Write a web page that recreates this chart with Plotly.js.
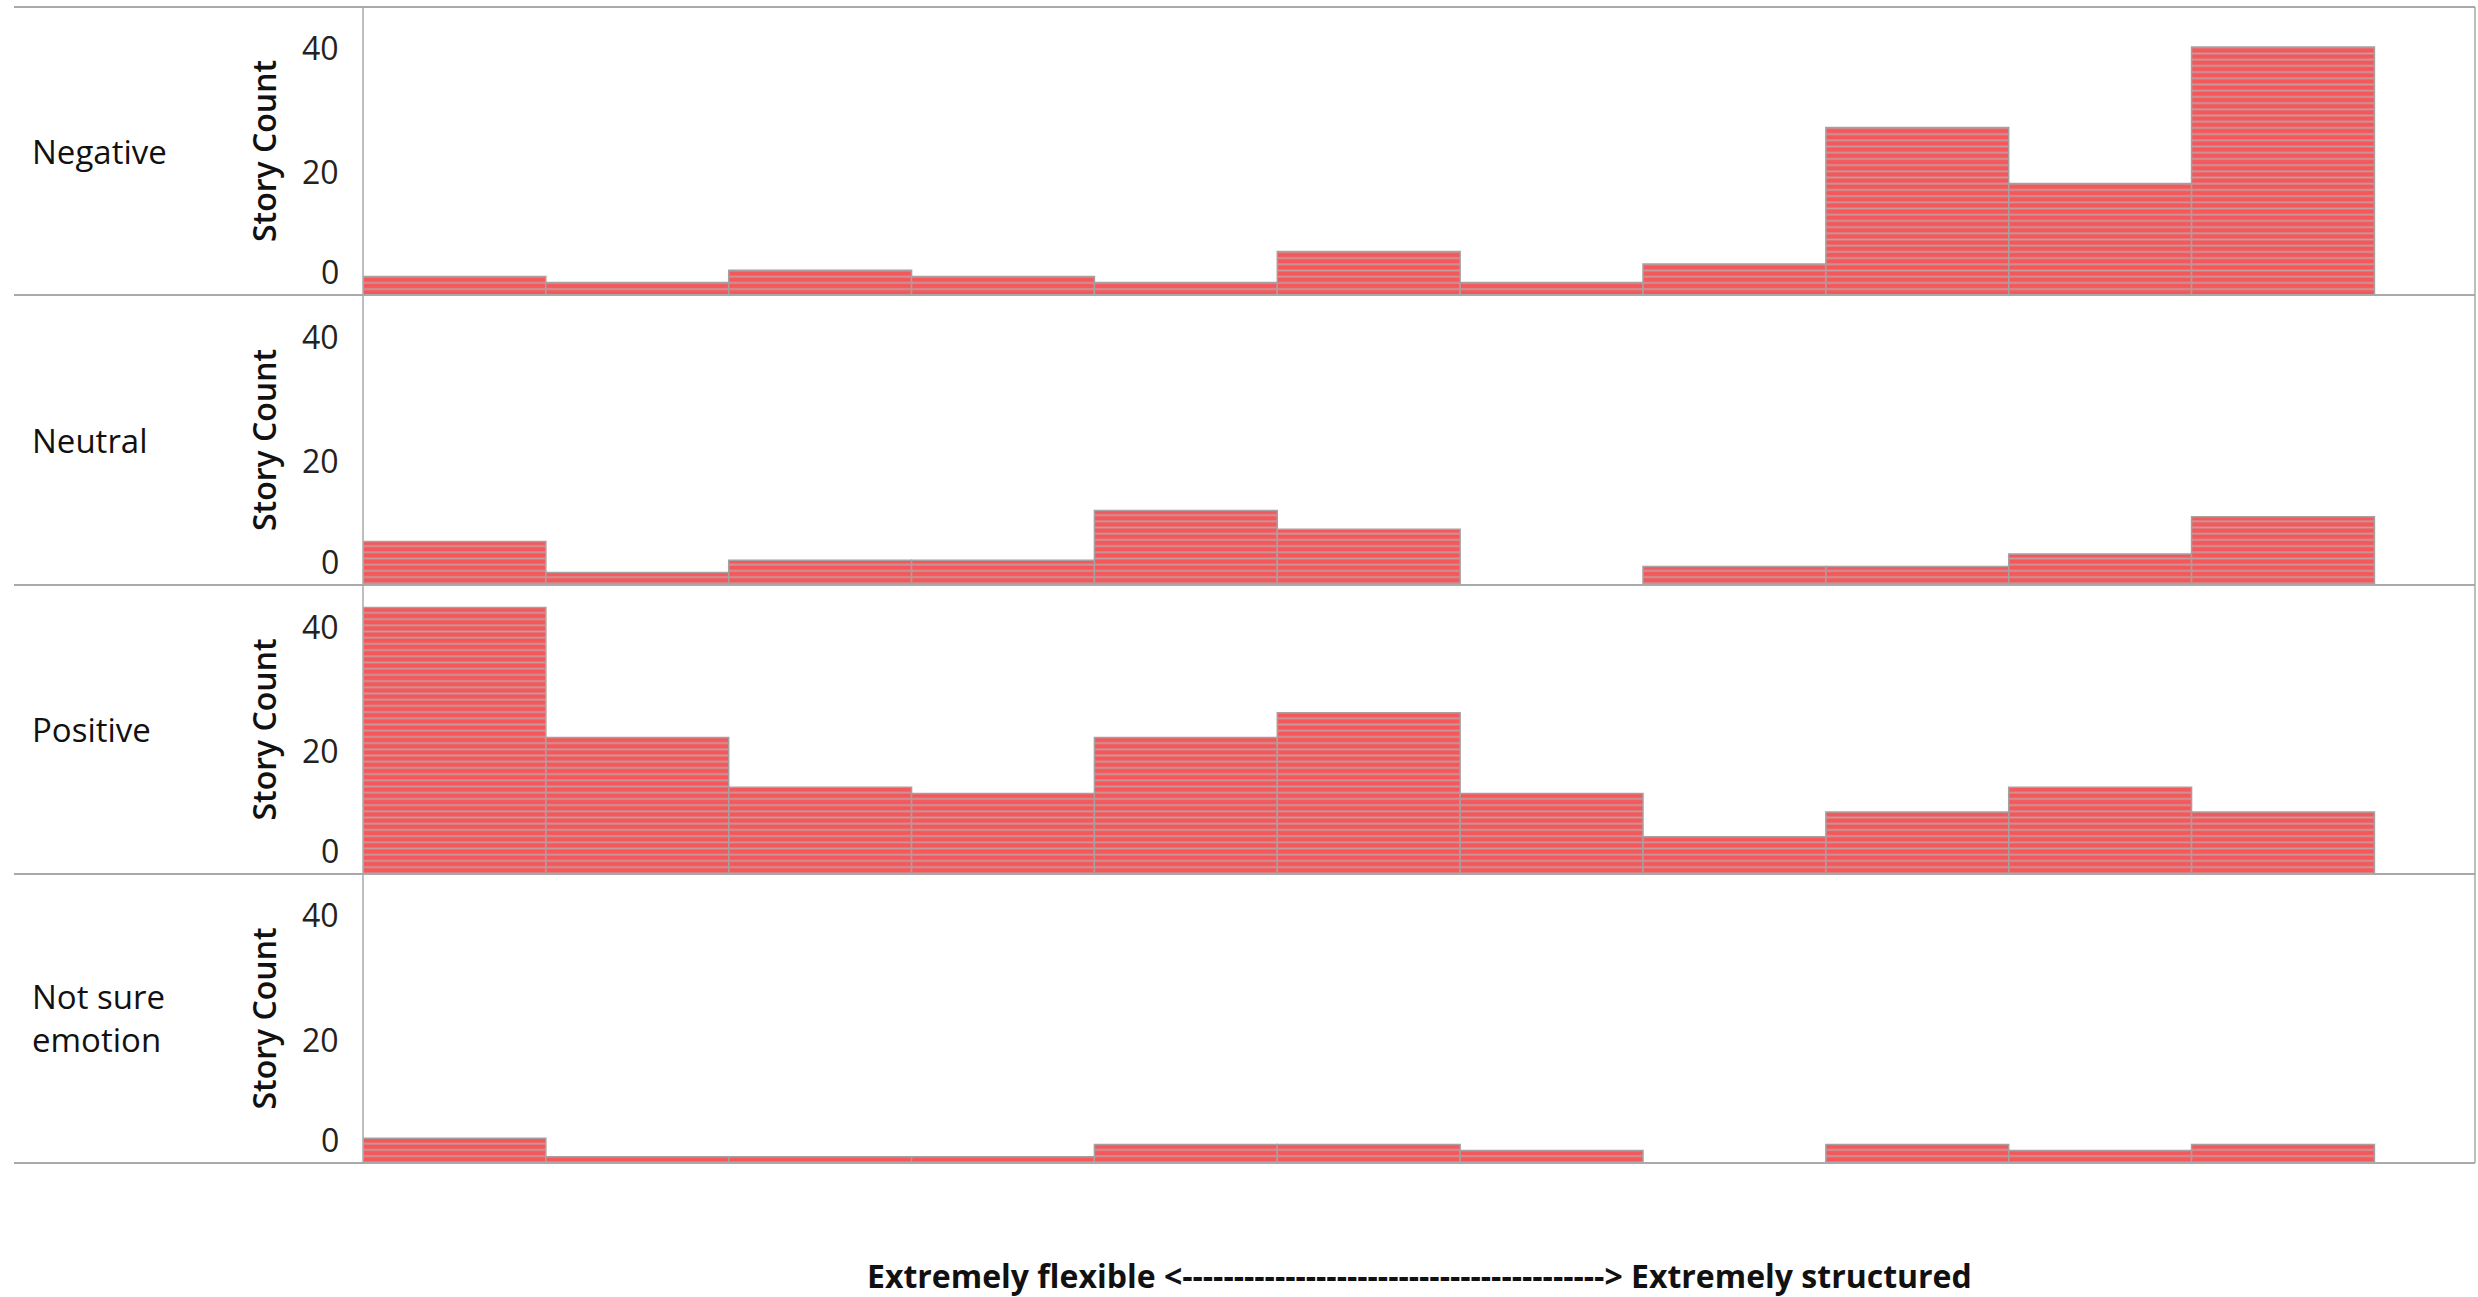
<!DOCTYPE html>
<html>
<head>
<meta charset="utf-8">
<script src="https://cdn.plot.ly/plotly-3.0.1.min.js"></script>
<style>
  html, body { margin: 0; padding: 0; background: #ffffff; }
  #chart { width: 2478px; height: 1297px; }
</style>
</head>
<body>
<div id="chart"></div>
<script>
// ---- Data ----
const categories = [0, 1, 2, 3, 4, 5, 6, 7, 8, 9, 10];
const rowLabels = ['Negative', 'Neutral', 'Positive', 'Not sure<br>emotion'];
const negative = [3, 2, 4, 3, 2, 7, 2, 5, 27, 18, 40];
const neutral  = [7, 2, 4, 4, 12, 9, 0, 3, 3, 5, 11];
const positive = [43, 22, 14, 13, 22, 26, 13, 6, 10, 14, 10];
const notSure  = [4, 1, 1, 1, 3, 3, 2, 0, 3, 2, 3];
const tickVals = [0, 20, 40];
const tickText = ['0', '20', '40'];
const yTitle = 'Story Count';
const xTitle = 'Extremely flexible <-----------------------------------------> Extremely structured';

const series = [negative, neutral, positive, notSure];

// ---- Layout geometry ----
const W = 2478, H = 1297;
const panelPx = [[7, 295], [295, 585], [585, 874], [874, 1163]];
const plotLeft = 363, plotRight = 2475, frameLeft = 14;
const pxPerUnit = 6.2;
const py = v => 1 - v / H;
const px = v => v / W;

const FONT = '"Open Sans", "Noto Sans", "DejaVu Sans", sans-serif';

const traces = [];
const layout = {
  width: W, height: H,
  margin: {l: 0, r: 0, t: 0, b: 0},
  paper_bgcolor: '#ffffff',
  plot_bgcolor: 'rgba(0,0,0,0)',
  showlegend: false,
  bargap: 0,
  font: {family: FONT, color: '#111111'},
  annotations: [],
  shapes: []
};

series.forEach((vals, i) => {
  const n = i + 1;
  const xa = n === 1 ? 'x' : 'x' + n;
  const ya = n === 1 ? 'y' : 'y' + n;
  traces.push({
    type: 'bar',
    x: categories,
    y: vals,
    xaxis: xa, yaxis: ya,
    marker: {
      color: '#f4555a',
      line: {color: '#a8a0a0', width: 1.5},
      pattern: {shape: '-', size: pxPerUnit, solidity: 0.3,
                fgcolor: '#c49a9c', bgcolor: '#f5575b', fillmode: 'replace'}
    },
    hovertemplate: '%{y}<extra></extra>'
  });
  const [top, bot] = panelPx[i];
  layout['xaxis' + (n === 1 ? '' : n)] = {
    domain: [px(plotLeft), px(plotRight)],
    range: [-0.5, 11.05],
    anchor: ya,
    showticklabels: false, showgrid: false, zeroline: false, showline: false, ticks: ''
  };
  layout['yaxis' + (n === 1 ? '' : n)] = {
    domain: [py(bot), py(top)],
    range: [0, (bot - top) / pxPerUnit],
    anchor: xa,
    showticklabels: false, showgrid: false, zeroline: false, showline: false, ticks: ''
  };
  // tick labels
  tickVals.forEach((tv, j) => {
    layout.annotations.push({
      xref: 'paper', yref: ya, x: px(341), y: tv,
      xanchor: 'right', yanchor: tv === 0 ? 'bottom' : 'middle',
      text: tickText[j], showarrow: false,
      font: {family: FONT, size: 32, color: '#222222'}
    });
  });
  // axis title
  layout.annotations.push({
    xref: 'paper', yref: ya + ' domain', x: px(263), y: 0.5,
    xanchor: 'center', yanchor: 'middle', textangle: -90,
    text: yTitle, showarrow: false,
    font: {family: FONT, size: 32, color: '#111111', weight: 600}
  });
  // row label
  layout.annotations.push({
    xref: 'paper', yref: ya + ' domain', x: px(30), y: 0.5,
    xanchor: 'left', yanchor: 'middle', align: 'left',
    text: rowLabels[i], showarrow: false,
    font: {family: FONT, size: 33, color: '#111111'}
  });
  // separator lines
  layout.shapes.push({
    type: 'line', xref: 'paper', yref: 'paper',
    x0: px(frameLeft), x1: px(plotRight), y0: py(top), y1: py(top),
    line: {color: '#a9a9a9', width: 2}
  });
});
// bottom line
layout.shapes.push({
  type: 'line', xref: 'paper', yref: 'paper',
  x0: px(frameLeft), x1: px(plotRight), y0: py(1163), y1: py(1163),
  line: {color: '#a9a9a9', width: 2}
});
// vertical frame lines
[plotLeft, plotRight].forEach(xv => {
  layout.shapes.push({
    type: 'line', xref: 'paper', yref: 'paper',
    x0: px(xv), x1: px(xv), y0: py(7), y1: py(1163),
    line: {color: '#a9a9a9', width: 1.5}
  });
});
// bottom title
layout.annotations.push({
  xref: 'paper', yref: 'paper', x: px((plotLeft + plotRight) / 2), y: py(1275),
  xanchor: 'center', yanchor: 'middle',
  text: xTitle, showarrow: false,
  font: {family: FONT, size: 32, color: '#111111', weight: 700}
});

Plotly.newPlot('chart', traces, layout, {displayModeBar: false, staticPlot: true});
</script>
</body>
</html>
